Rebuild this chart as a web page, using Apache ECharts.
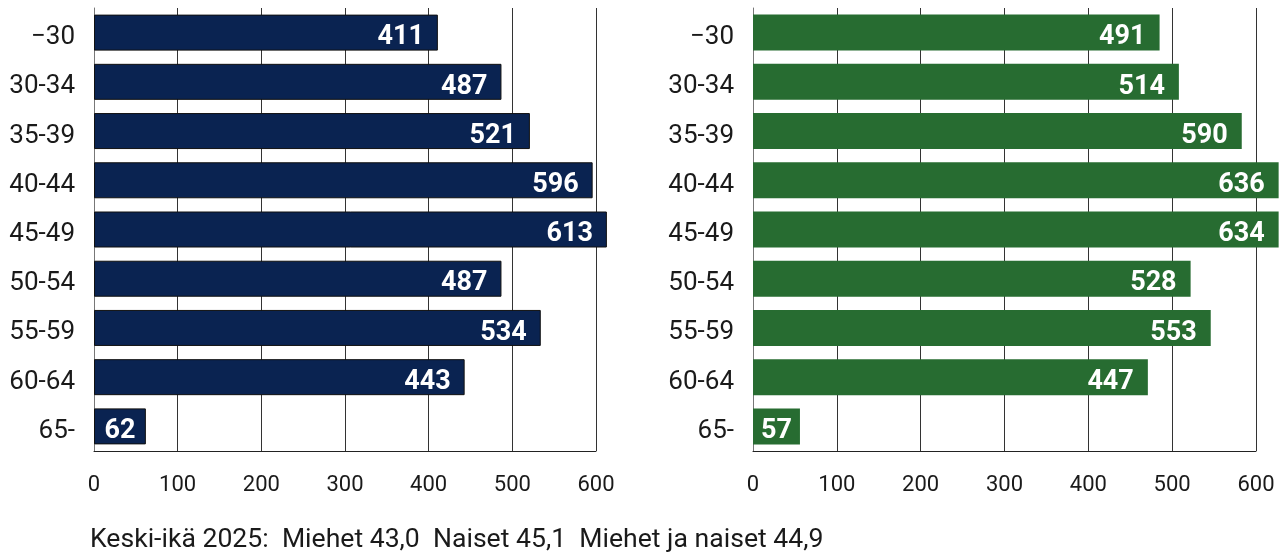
<!DOCTYPE html>
<html>
<head>
<meta charset="utf-8">
<script src="https://cdn.jsdelivr.net/npm/echarts@6/dist/echarts.min.js"></script>
<style>
html,body{margin:0;padding:0;background:#fff;}
#chart{width:1287px;height:554px;}
</style>
</head>
<body>
<div id="chart"></div>
<script>
// Age groups (top to bottom)
var categories = ['\u221230', '30-34', '35-39', '40-44', '45-49', '50-54', '55-59', '60-64', '65-'];
// Men (left panel): printed values, bar lengths match
var miehetLabels = [411, 487, 521, 596, 613, 487, 534, 443, 62];
var miehetBars   = [411, 487, 521, 596, 613, 487, 534, 443, 62];
// Women (right panel): printed values and bar lengths as drawn in the picture
var naisetLabels = [491, 514, 590, 636, 634, 528, 553, 447, 57];
var naisetBars   = [485, 508, 583, 627, 627, 522, 546, 471, 56];
// X-axis ticks
var xTicks = [0, 100, 200, 300, 400, 500, 600];
var footerText = 'Keski-ik\u00e4 2025:  Miehet 43,0  Naiset 45,1  Miehet ja naiset 44,9';

var FONT = 'Roboto';
var chart = echarts.init(document.getElementById('chart'), null, {renderer: 'canvas'});

function barData(bars, labels) {
  return bars.map(function (v, i) {
    return {
      value: v,
      label: {
        formatter: String(labels[i]),
        position: v < 100 ? 'inside' : 'insideRight',
        distance: 14
      }
    };
  });
}

function xAxisDef(idx) {
  return {
    gridIndex: idx, type: 'value', min: xTicks[0], max: xTicks[xTicks.length - 1], interval: 100,
    axisLine: {show: true, onZero: false, lineStyle: {color: '#222', width: 1}},
    axisTick: {show: false},
    splitLine: {show: true, lineStyle: {color: '#333', width: 1}},
    axisLabel: {color: '#1a1a1a', fontSize: 22, fontFamily: FONT, margin: 23}
  };
}
function yAxisDef(idx) {
  return {
    gridIndex: idx, type: 'category', data: categories, inverse: true,
    axisLine: {show: true, lineStyle: {color: '#777', width: 1}},
    axisTick: {show: false},
    axisLabel: {color: '#1a1a1a', fontSize: 26, fontFamily: FONT, margin: 19, verticalAlign: 'top', lineHeight: 10}
  };
}

var labelStyle = {show: true, color: '#fff', fontSize: 27, fontWeight: 'bold', fontFamily: FONT, verticalAlign: 'top', lineHeight: 10};

var option = {
  animation: false,
  grid: [
    {left: 94, top: 8, width: 502, height: 443, containLabel: false},
    {left: 753, top: 8, width: 503, height: 443, containLabel: false}
  ],
  xAxis: [xAxisDef(0), xAxisDef(1)],
  yAxis: [yAxisDef(0), yAxisDef(1)],
  series: [
    {
      type: 'bar', xAxisIndex: 0, yAxisIndex: 0, barWidth: 36, clip: false,
      data: barData(miehetBars, miehetLabels),
      itemStyle: {color: '#0a2351', borderColor: '#111', borderWidth: 1},
      label: labelStyle
    },
    {
      type: 'bar', xAxisIndex: 1, yAxisIndex: 1, barWidth: 36, clip: false,
      data: barData(naisetBars, naisetLabels),
      itemStyle: {color: '#276c31'},
      label: labelStyle
    }
  ],
  graphic: [
    {
      type: 'text', left: 90, top: 527,
      style: {text: footerText, fill: '#1a1a1a', fontSize: 26.6, fontFamily: FONT}
    }
  ]
};
chart.setOption(option);
</script>
</body>
</html>
